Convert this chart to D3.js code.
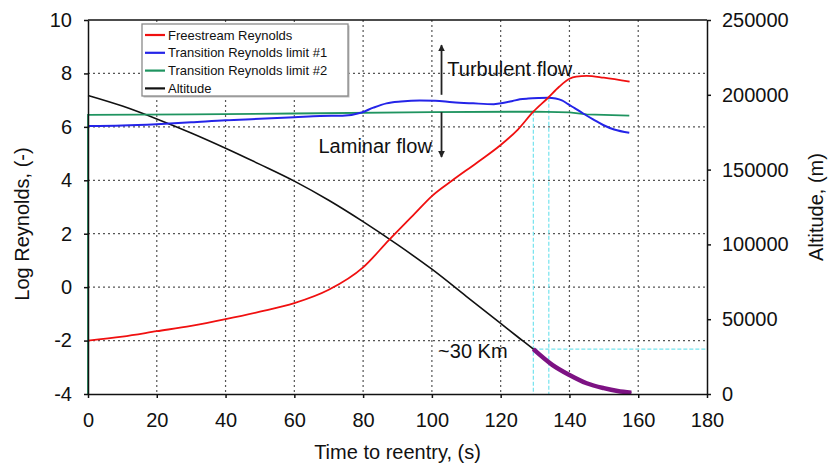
<!DOCTYPE html>
<html lang="en">
<head>
<meta charset="utf-8">
<style>
    body { margin: 0; background: #fff; }
    svg text { font-family: Arial, "Liberation Sans", sans-serif; fill: #111; }
    .grid line { stroke: #555; stroke-width: 1.2; stroke-dasharray: 2,3; }
    .axis path, .axis line { stroke: #111; stroke-width: 1.5; }
    .axis text { font-size: 20px; }
</style>
</head>
<body>
<script src="https://d3js.org/d3.v7.min.js"></script>
<script>
// ---- data ----
var xTicks = [0, 20, 40, 60, 80, 100, 120, 140, 160, 180];
var yTicks = [-4, -2, 0, 2, 4, 6, 8, 10];
var altTicks = [0, 50000, 100000, 150000, 200000, 250000];

var seriesNames = ["Freestream Reynolds", "Transition Reynolds limit #1", "Transition Reynolds limit #2", "Altitude"];
var seriesColors = ["#f01010", "#2424e8", "#1f9460", "#111111"];

var redTime = [0, 10, 20, 30, 40, 50, 60, 70, 80, 87.5, 95, 100, 106, 113, 120, 125, 129.5, 133.8, 137, 140, 142, 145, 150, 157.5];
var redLog  = [-2.0, -1.85, -1.65, -1.45, -1.2, -0.92, -0.6, -0.1, 0.74, 1.76, 2.75, 3.41, 4.0, 4.65, 5.32, 5.9, 6.57, 7.09, 7.5, 7.8, 7.88, 7.91, 7.84, 7.69];

var blueTime = [0, 10, 20, 30, 40, 50, 60, 67.5, 74, 79.6, 83, 86.8, 91, 96.5, 101, 106, 112, 118, 121, 123.5, 125.6, 128, 131, 133.8, 136, 137.8, 139.5, 141.5, 144, 147, 149.8, 153, 157.4];
var blueLog  = [6.03, 6.05, 6.1, 6.17, 6.25, 6.3, 6.36, 6.41, 6.42, 6.54, 6.72, 6.88, 6.95, 6.99, 6.98, 6.92, 6.88, 6.85, 6.9, 6.97, 7.03, 7.06, 7.08, 7.09, 7.06, 6.99, 6.86, 6.7, 6.5, 6.27, 6.07, 5.9, 5.78];

var greenTime = [0, 0, 30, 60, 100, 130, 140, 145, 150, 157.4];
var greenLog  = [-4, 6.45, 6.47, 6.5, 6.55, 6.57, 6.54, 6.47, 6.45, 6.42];

var altTime = [0, 10, 20, 30, 40, 50, 60, 70, 80, 90, 100, 110, 120, 125, 129.5, 135, 140, 145, 150, 154, 158];
var altitude = [199600, 192500, 183900, 174500, 164300, 153500, 142300, 129500, 115200, 99800, 83400, 65300, 47200, 38100, 30000, 19500, 12700, 7200, 3900, 2000, 900];

// transition points and the 30 km marker
var transTime = [129.5, 134];
var transLog = [6.57, 7.09];
var markAltitude = 30000;

var W = 829, H = 466;
var margin = { top: 20, right: 122, bottom: 72, left: 88 },
    width = W - margin.left - margin.right,
    height = H - margin.top - margin.bottom;

var svg = d3.select("body").append("svg")
    .attr("width", W)
    .attr("height", H);

var g = svg.append("g")
    .attr("transform", "translate(" + margin.left + "," + margin.top + ")");

var x = d3.scaleLinear().domain([0, 180]).range([0, width]);
var y = d3.scaleLinear().domain([-4, 10]).range([height, 0]);
var yAlt = d3.scaleLinear().domain([0, 250000]).range([height, 0]);

// dotted grid
var grid = g.append("g").attr("class", "grid");
grid.selectAll(".v")
    .data(xTicks.filter(function (d) { return d > 0 && d < 180; }))
    .enter().append("line")
    .attr("x1", function (d) { return x(d); })
    .attr("x2", function (d) { return x(d); })
    .attr("y1", 0).attr("y2", height);
grid.selectAll(".h")
    .data(yTicks.filter(function (d) { return d > -4 && d < 10; }))
    .enter().append("line")
    .attr("x1", 0).attr("x2", width)
    .attr("y1", function (d) { return y(d); })
    .attr("y2", function (d) { return y(d); });

// cyan guide lines
var cyan = g.append("g")
    .attr("stroke", "#74e3ee")
    .attr("stroke-width", 1.2)
    .attr("stroke-dasharray", "4,2");
transTime.forEach(function (t, i) {
    cyan.append("line")
        .attr("x1", x(t)).attr("x2", x(t))
        .attr("y1", y(transLog[i])).attr("y2", height);
});
cyan.append("line")
    .attr("x1", x(transTime[0])).attr("x2", width)
    .attr("y1", yAlt(markAltitude)).attr("y2", yAlt(markAltitude));

// curves
function zip(a, b) {
    return a.map(function (d, i) { return [d, b[i]]; });
}
var line = d3.line()
    .x(function (d) { return x(d[0]); })
    .y(function (d) { return y(d[1]); })
    .curve(d3.curveMonotoneX);
var altLine = d3.line()
    .x(function (d) { return x(d[0]); })
    .y(function (d) { return yAlt(d[1]); })
    .curve(d3.curveMonotoneX);

var altData = zip(altTime, altitude);
g.append("path").datum(altData)
    .attr("d", altLine)
    .attr("fill", "none").attr("stroke", seriesColors[3]).attr("stroke-width", 1.6);
g.append("path").datum(altData.filter(function (d) { return d[0] >= transTime[0]; }))
    .attr("d", altLine)
    .attr("fill", "none").attr("stroke", "#7d1283").attr("stroke-width", 4.5);

g.append("path").datum(zip(greenTime, greenLog))
    .attr("d", d3.line().x(function (d) { return x(d[0]); }).y(function (d) { return y(d[1]); }))
    .attr("fill", "none").attr("stroke", seriesColors[2]).attr("stroke-width", 1.8);
g.append("path").datum(zip(blueTime, blueLog))
    .attr("d", line)
    .attr("fill", "none").attr("stroke", seriesColors[1]).attr("stroke-width", 2);
g.append("path").datum(zip(redTime, redLog))
    .attr("d", line)
    .attr("fill", "none").attr("stroke", seriesColors[0]).attr("stroke-width", 1.8);

// frame top
g.append("line")
    .attr("x1", 0).attr("x2", width).attr("y1", 0).attr("y2", 0)
    .attr("stroke", "#111").attr("stroke-width", 1.5);

// axes (plain hyphen for negatives, no thousands separator)
var plain = function (d) { return String(d); };
g.append("g").attr("class", "axis")
    .attr("transform", "translate(0," + height + ")")
    .call(d3.axisBottom(x).tickValues(xTicks).tickFormat(plain).tickSizeInner(4).tickSizeOuter(0).tickPadding(15));
g.append("g").attr("class", "axis")
    .call(d3.axisLeft(y).tickValues(yTicks).tickFormat(plain).tickSizeInner(4).tickSizeOuter(0).tickPadding(12));
g.append("g").attr("class", "axis")
    .attr("transform", "translate(" + width + ",0)")
    .call(d3.axisRight(yAlt).tickValues(altTicks).tickFormat(plain).tickSizeInner(4).tickSizeOuter(0).tickPadding(11));

// axis titles
svg.append("text")
    .attr("x", margin.left + width / 2).attr("y", 459)
    .attr("text-anchor", "middle").attr("font-size", "20px")
    .text("Time to reentry, (s)");
svg.append("text")
    .attr("transform", "translate(29," + (margin.top + height / 2 + 17) + ") rotate(-90)")
    .attr("text-anchor", "middle").attr("font-size", "20px")
    .text("Log Reynolds, (-)");
svg.append("text")
    .attr("transform", "translate(823," + (margin.top + height / 2) + ") rotate(-90)")
    .attr("text-anchor", "middle").attr("font-size", "20px")
    .text("Altitude, (m)");

// annotations
var defs = svg.append("defs");
defs.append("marker")
    .attr("id", "head")
    .attr("viewBox", "0 0 10 10")
    .attr("refX", 9).attr("refY", 5)
    .attr("markerWidth", 7).attr("markerHeight", 7)
    .attr("markerUnits", "userSpaceOnUse")
    .attr("orient", "auto")
    .append("path").attr("d", "M0,0 L10,5 L0,10 z").attr("fill", "#222");

var arrowT = 102.8;
g.append("line")
    .attr("x1", x(arrowT)).attr("x2", x(arrowT))
    .attr("y1", y(7.2)).attr("y2", y(9.06))
    .attr("stroke", "#222").attr("stroke-width", 1.8).attr("marker-end", "url(#head)");
g.append("line")
    .attr("x1", x(arrowT)).attr("x2", x(arrowT))
    .attr("y1", y(6.55)).attr("y2", y(4.87))
    .attr("stroke", "#222").attr("stroke-width", 1.8).attr("marker-end", "url(#head)");

g.append("text")
    .attr("x", x(104.5)).attr("y", y(7.9))
    .attr("font-size", "20px")
    .text("Turbulent flow");
g.append("text")
    .attr("x", x(100)).attr("y", y(5.02))
    .attr("text-anchor", "end").attr("font-size", "20px")
    .text("Laminar flow");
g.append("text")
    .attr("x", x(101.8)).attr("y", y(-2.65))
    .attr("font-size", "20px")
    .text("~30 Km");

// legend
var legend = svg.append("g").attr("transform", "translate(142,24)");
legend.append("rect")
    .attr("x", 1.5).attr("y", 1.5).attr("width", 206).attr("height", 72)
    .attr("fill", "#bbb");
legend.append("rect")
    .attr("width", 206).attr("height", 72)
    .attr("fill", "#fff").attr("stroke", "#8a8a8a").attr("stroke-width", 1.3);
var rows = legend.selectAll(".row")
    .data(seriesNames)
    .enter().append("g")
    .attr("transform", function (d, i) { return "translate(0," + (11 + i * 17.8) + ")"; });
rows.append("line")
    .attr("x1", 3).attr("x2", 23)
    .attr("stroke", function (d, i) { return seriesColors[i]; })
    .attr("stroke-width", 2.2);
rows.append("text")
    .attr("x", 26).attr("dy", "0.35em")
    .attr("font-size", "13px")
    .text(function (d) { return d; });
</script>
</body>
</html>
